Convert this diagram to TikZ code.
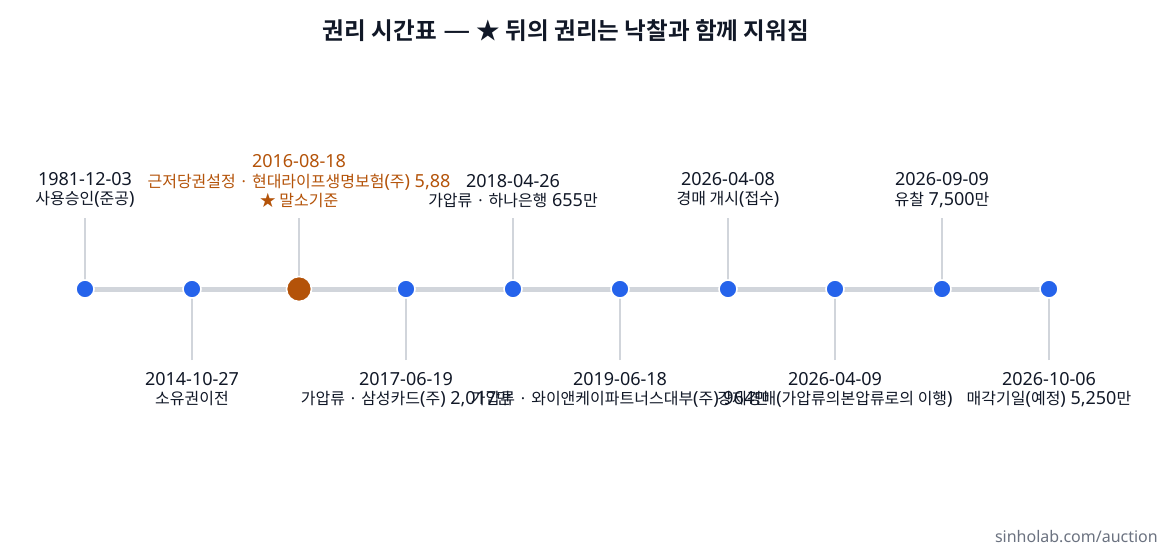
\documentclass[tikz,border=0pt]{standalone}
\usepackage{fontspec}
\setmainfont{Noto Sans}
\newfontfamily\krfont{Noto Sans CJK KR}[Scale=0.889, BoldFont={Noto Sans CJK KR Bold}]
\newcommand\kr[1]{{\krfont #1}}
\newcommand\sep{\kr{ · }}
\definecolor{ink}{HTML}{111827}
\definecolor{blue}{HTML}{2563EB}
\definecolor{rust}{HTML}{B45309}
\definecolor{rail}{HTML}{D1D5DB}
\definecolor{foot}{HTML}{6B7280}
\tikzset{
  dot/.style={circle, fill=blue, draw=white, line width=1.6pt, minimum size=18pt, inner sep=0pt},
  keydot/.style={circle, fill=rust, draw=white, line width=1.6pt, minimum size=25pt, inner sep=0pt},
  rail/.style={draw=rail, line width=5pt},
  tickline/.style={draw=rail, line width=1.3pt},
  lbl/.style={inner sep=0pt, align=center, text=ink, font=\fontsize{18}{19.5}\selectfont},
  uplbl/.style={lbl, anchor=south},
  downlbl/.style={lbl, anchor=north},
}
\begin{document}
\begin{tikzpicture}[x=1pt,y=-1pt]
\useasboundingbox[fill=white] (0,0) rectangle (1170,546);
\node[font=\bfseries\fontsize{26.5}{28}\selectfont, text=ink] (title) at (566,31) {\kr{권리 시간표} — \kr{★ 뒤의 권리는 낙찰과 함께 지워짐}};
% positions
\foreach \i/\x in {0/85,1/192,2/299,3/406,4/513,5/620,6/728,7/835,8/942,9/1049}{
  \coordinate (p\i) at (\x,289);
}
\draw[rail] (p0) -- (p9);
% ticks
\foreach \i/\x in {0/85,2/299,4/513,6/728,8/942}{
  \coordinate (t\i) at (\x,218);
  \draw[tickline] (t\i) -- (p\i);
}
\foreach \i/\x in {1/192,3/406,5/620,7/835,9/1049}{
  \coordinate (t\i) at (\x,360);
  \draw[tickline] (t\i) -- (p\i);
}
% dots
\foreach \i in {0,1,3,4,5,6,7,8,9}{
  \node[dot] (d\i) at (p\i) {};
}
\node[keydot] (d2) at (p2) {};
% upper labels
\node[uplbl] (l0) at (85,208) {1981-12-03\\\kr{사용승인}(\kr{준공})};
\node[uplbl, text=rust] (l2) at (299,208) {2016-08-18\\\kr{근저당권설정}\sep\kr{현대라이프생명보험}(\kr{주}) 5,88\\\kr{★ 말소기준}};
\node[uplbl] (l4) at (513,208) {2018-04-26\\\kr{가압류}\sep\kr{하나은행} 655\kr{만}};
\node[uplbl] (l6) at (728,208) {2026-04-08\\\kr{경매 개시}(\kr{접수})};
\node[uplbl] (l8) at (942,208) {2026-09-09\\\kr{유찰} 7,500\kr{만}};
% lower labels
\node[downlbl] (l1) at (192,372) {2014-10-27\\\kr{소유권이전}};
\node[downlbl] (l3) at (406,372) {2017-06-19\\\kr{가압류}\sep\kr{삼성카드}(\kr{주}) 2,017\kr{만}};
\node[downlbl] (l5) at (620,372) {2019-06-18\\\kr{가압류}\sep\kr{와이앤케이파트너스대부}(\kr{주}) 964\kr{만}};
\node[downlbl] (l7) at (835,372) {2026-04-09\\\kr{강제경매}(\kr{가압류의본압류로의 이행})};
\node[downlbl] (l9) at (1049,372) {2026-10-06\\\kr{매각기일}(\kr{예정}) 5,250\kr{만}};
% footer
\node[anchor=east, inner sep=0pt, text=foot, font=\fontsize{16}{18}\selectfont] (footer) at (1158,537) {sinholab.com/auction};
\end{tikzpicture}
\end{document}
